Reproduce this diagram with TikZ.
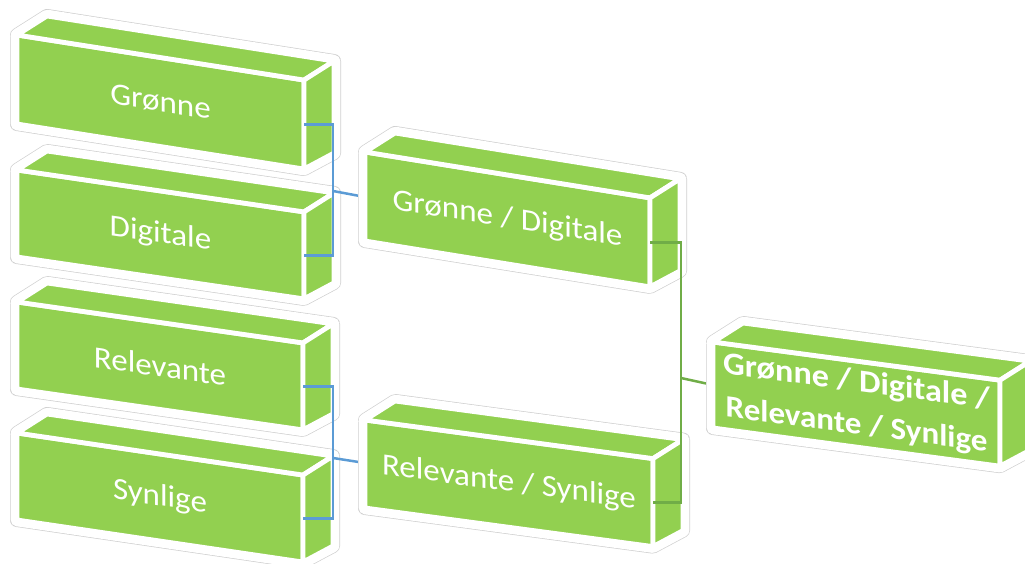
\documentclass[tikz,border=0pt]{standalone}
\usepackage{fontspec}
\setmainfont{Carlito}
\usetikzlibrary{calc}
\definecolor{boxgreen}{HTML}{92D050}
\definecolor{linkblue}{HTML}{5B9BD5}
\definecolor{linkgreen}{HTML}{70AD47}
\definecolor{rimgray}{HTML}{D0D0D0}
\tikzset{
  rimo/.style={draw=rimgray, line width=14bp, line join=round},
  rimi/.style={draw=white, fill=white, line width=12.6bp, line join=round},
  face/.style={fill=boxgreen, draw=white, line width=4.8bp, line join=miter},
  txt/.style={text=white, font=\fontsize{31}{43}\selectfont, align=center,
    inner sep=0pt, xscale=1.07, transform shape},
  bluelink/.style={draw=linkblue, line width=2.5bp},
  greenlink/.style={draw=linkgreen, line width=2.5bp},
}
\newcommand\gbox[7]{%
  \coordinate (#1-a) at (#2,#3);
  \coordinate (#1-b) at ({#2+#4},{#3+#6*#4});
  \coordinate (#1-c) at ({#2+#4},{#3+#6*#4+#5});
  \coordinate (#1-d) at (#2,{#3+#5});
  \coordinate (#1-e) at ({#2+30},{#3-19});
  \coordinate (#1-f) at ({#2+#4+30},{#3+#6*#4-19});
  \coordinate (#1-g) at ({#2+#4+30},{#3+#6*#4+#5-16});
  \coordinate (#1-in) at ($(#1-a)!0.5!(#1-d)$);
  \coordinate (#1-out) at ($(#1-b)!0.5!(#1-c)$);
  \path[rimo] (#1-a)--(#1-e)--(#1-f)--(#1-g)--(#1-c)--(#1-d)--cycle;
  \path[rimi] (#1-a)--(#1-e)--(#1-f)--(#1-g)--(#1-c)--(#1-d)--cycle;
  \path[face] (#1-a)--(#1-b)--(#1-c)--(#1-d)--cycle;
  \path[face] (#1-a)--(#1-e)--(#1-f)--(#1-b)--cycle;
  \path[face] (#1-b)--(#1-f)--(#1-g)--(#1-c)--cycle;
  \node[yslant=-#6, txt] (#1) at ($(#1-a)!0.5!(#1-c)$) {#7};
}
\begin{document}
\begin{tikzpicture}[x=1bp,y=-1bp]
\useasboundingbox (0,0) rectangle (1025,564);
\clip (0,0) rectangle (1025,564);
\gbox{b1}{17}{35}{287}{89}{0.157}{Grønne}
\gbox{b2}{17}{170}{287}{87}{0.146}{Digitale}
\gbox{b3}{17}{302}{286}{87}{0.143}{Relevante}
\gbox{b4}{17}{433}{286}{87}{0.147}{Synlige}
\coordinate (j1) at (333,191);
\coordinate (j2) at (333,458);
\draw[bluelink] (b1-out) -| (j1) |- (b2-out);
\draw[bluelink] (b3-out) -| (j2) |- (b4-out);
\draw[bluelink] (j1) -- (365,197);
\draw[bluelink] (j2) -- (365,463);
\gbox{m1}{365}{152}{285}{89}{0.161}{Grønne / Digitale}
\gbox{m2}{365}{420}{288}{88}{0.134}{Relevante / Synlige}
\coordinate (j3) at (681,378);
\draw[greenlink] (m1-out) -| (j3) |- (m2-out);
\draw[greenlink] (j3) -- (713,385);
\gbox{r1}{713}{342}{287}{86}{0.133}{\fontsize{32}{44}\selectfont\bfseries Grønne / Digitale /\\\bfseries Relevante / Synlige}
\end{tikzpicture}
\end{document}
